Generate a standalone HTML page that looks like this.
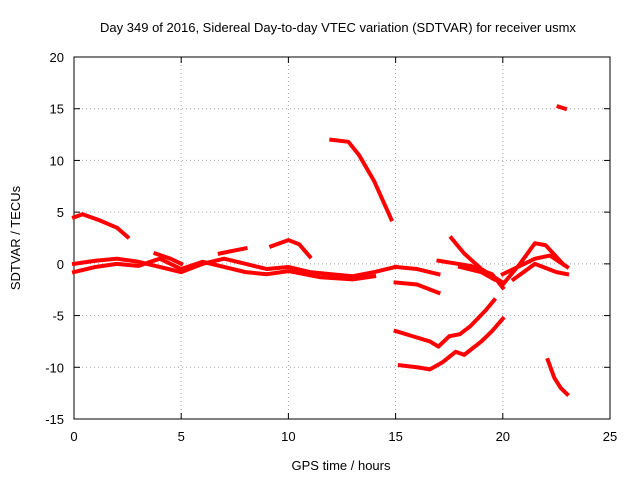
<!DOCTYPE html>
<html><head><meta charset="utf-8"><style>
body{margin:0;background:#fff;}
svg text{font-family:"Liberation Sans",sans-serif;font-size:13px;fill:#000;}
</style></head><body>
<svg id="chart" width="640" height="480">
<text x="338" y="32" text-anchor="middle">Day 349 of 2016, Sidereal Day-to-day VTEC variation (SDTVAR) for receiver usmx</text>
<text x="341" y="470" text-anchor="middle">GPS time / hours</text>
<text x="20" y="238" text-anchor="middle" transform="rotate(-90 20 238)">SDTVAR / TECUs</text>
<g id="grid"></g><g id="axes"></g><g id="series"></g>
</svg>
<script>
const xTicks=[0,5,10,15,20,25];
const yTicks=[-15,-10,-5,0,5,10,15,20];
const track1=[[0,4.5],[0.4,4.8],[1.2,4.2],[2,3.5],[2.5,2.6]];
const track2=[[12,12],[12.8,11.8],[13.3,10.5],[14,8],[14.8,4.3]];
const track3=[[9.2,1.7],[10,2.3],[10.5,1.9],[11,0.7]];
const track4=[[0,0],[1,0.3],[2,0.5],[3,0.2],[4,-0.3],[5,-0.8],[6,0],[7,0.5],[8,0],[9,-0.5],[10,-0.3],[11,-0.8],[12,-1],[13,-1.2],[14,-0.8],[15,-0.3]];
const track5=[[0,-0.8],[1,-0.3],[2,0],[3,-0.2],[4,0.5],[5,-0.5],[6,0.2],[7,-0.3],[8,-0.8],[9,-1],[10,-0.7],[11.5,-1.3],[13,-1.5],[14,-1.2]];
const track6=[[3.8,1],[4.5,0.5],[5,0]];
const track7=[[6.8,1],[7.5,1.3],[8,1.5]];
const track8=[[15,-0.3],[16,-0.5],[17,-1]];
const track9=[[15,-1.8],[16,-2],[17,-2.8]];
const track10=[[17.6,2.5],[18.2,1],[19,-0.5],[20,-1.8]];
const track11=[[17,0.3],[18.5,-0.2],[19.5,-1],[20,-2.3]];
const track12=[[18,-0.3],[19,-0.8],[19.6,-1.5]];
const track13=[[20,-2],[20.8,0],[21.5,2],[22,1.8],[22.8,0]];
const track14=[[20,-1],[21.5,0.5],[22.2,0.8],[23,-0.3]];
const track15=[[20.5,-1.5],[21.5,0],[22.5,-0.8],[23,-1]];
const track16=[[15,-6.5],[15.8,-7],[16.6,-7.5],[17,-8],[17.5,-7],[18,-6.8],[18.5,-6],[19.2,-4.5],[19.6,-3.5]];
const track17=[[15.2,-9.8],[16,-10],[16.6,-10.2],[17.2,-9.5],[17.8,-8.5],[18.2,-8.8],[19,-7.5],[19.5,-6.5],[20,-5.3]];
const track18=[[22.1,-9.3],[22.4,-11],[22.7,-12],[23,-12.6]];
const track19=[[22.6,15.2],[22.9,15]];
const tracks=[track1,track2,track3,track4,track5,track6,track7,track8,track9,track10,track11,track12,track13,track14,track15,track16,track17,track18,track19];
const X0=74,X1=610,Y0=419,Y1=57;
const sx=v=>X0+(v-0)/(25-0)*(X1-X0);
const sy=v=>Y0-(v+15)/(35)*(Y0-Y1);
const NS="http://www.w3.org/2000/svg";
const grid=document.getElementById('grid'),axes=document.getElementById('axes'),ser=document.getElementById('series');
function mk(tag,attrs,parent){const e=document.createElementNS(NS,tag);for(const k in attrs)e.setAttribute(k,attrs[k]);parent.appendChild(e);return e;}
xTicks.forEach(t=>{
 if(t>0&&t<25){const l=mk('line',{x1:sx(t),x2:sx(t),y1:Y1,y2:Y0,stroke:'#a0a0a0','stroke-dasharray':'1,3'},grid);
 
 }
 const tx=mk('text',{x:sx(t),y:Y0+22,'text-anchor':'middle'},axes);tx.textContent=t;
 
 
 mk('line',{x1:sx(t),x2:sx(t),y1:Y0,y2:Y0-6,stroke:'#000'},axes);
 mk('line',{x1:sx(t),x2:sx(t),y1:Y1,y2:Y1+6,stroke:'#000'},axes);
});
yTicks.forEach(t=>{
 if(t>-15&&t<20){const l=mk('line',{x1:X0,x2:X1,y1:sy(t),y2:sy(t),stroke:'#a0a0a0','stroke-dasharray':'1,3'},grid);
 
 }
 const tx=mk('text',{x:X0-10,y:sy(t)+5,'text-anchor':'end'},axes);tx.textContent=t;
 
 
 mk('line',{x1:X0,x2:X0+6,y1:sy(t),y2:sy(t),stroke:'#000'},axes);
 mk('line',{x1:X1,x2:X1-6,y1:sy(t),y2:sy(t),stroke:'#000'},axes);
});
const fr=mk('rect',{x:X0,y:Y1,width:X1-X0,height:Y0-Y1,fill:'none',stroke:'#000'},axes);


tracks.forEach((tr,i)=>{
 const p=mk('polyline',{points:tr.map(d=>sx(d[0])+','+sy(d[1])).join(' '),fill:'none',stroke:'#f00','stroke-width':4,'stroke-linejoin':'round','stroke-linecap':'square'},ser);
 
 
});
</script>
</body></html>
